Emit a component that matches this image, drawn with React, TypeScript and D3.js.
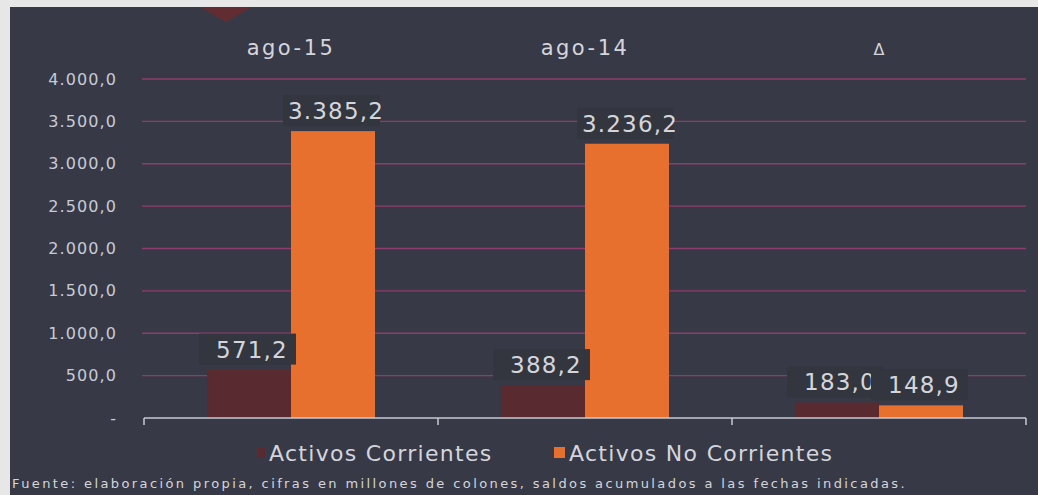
import React from 'react';
import * as d3 from 'd3';

const categories = ['ago-15', 'ago-14', 'Δ'];
const corrientes = [571.2, 388.2, 183.0];
const noCorrientes = [3385.2, 3236.2, 148.9];
const seriesNames = ['Activos Corrientes', 'Activos No Corrientes'];
const yTicks = [0, 500, 1000, 1500, 2000, 2500, 3000, 3500, 4000];
const footnote = 'Fuente: elaboración propia, cifras en millones de colones, saldos acumulados a las fechas indicadas.';

const W = 1038;
const H = 495;
const FONT = '"DejaVu Sans", sans-serif';
const BG = '#373a46';
const DARK = '#5a2a31';
const ORANGE = '#e8702f';
const TEXT = '#d4d5dc';

const fmt = (v: number) => {
  const [i, d] = v.toFixed(1).split('.');
  return i.replace(/\B(?=(\d{3})+(?!\d))/g, '.') + ',' + d;
};

export default function App() {
  const margin = { left: 144, right: 12, top: 79, bottom: 77 };
  const x = d3.scaleBand<string>().domain(categories).range([margin.left, W - margin.right]);
  const y = d3.scaleLinear().domain([0, 4000]).range([H - margin.bottom, margin.top]);
  const inner = d3.scaleBand<number>().domain([0, 1]).range([0, x.bandwidth()]).paddingOuter(0.75).paddingInner(0);
  const series = [corrientes, noCorrientes];
  const colors = [DARK, ORANGE];
  const y0 = y(0);

  const labels: { cx: number; ty: number; text: string }[] = [];
  categories.forEach((c, i) => {
    series.forEach((s, k) => {
      labels.push({ cx: (x(c) ?? 0) + (inner(k) ?? 0) + inner.bandwidth() / 2 + 3, ty: y(s[i]) - 12, text: fmt(s[i]) });
    });
  });

  return (
    <div style={{ position: 'absolute', left: 0, top: 0 }}>
      <svg width={W} height={H} style={{ display: 'block', fontFamily: FONT }}>
        <rect x={0} y={0} width={W} height={H} fill="#e7e7e7" />
        <rect x={10} y={7} width={W - 10} height={H - 7} fill={BG} />
        <polygon points="200,7 252,7 226,22" fill="#6b2b2e" opacity={0.8} />

        {yTicks.filter(t => t > 0).map(t => (
          <line key={t} x1={margin.left - 2} x2={W - margin.right} y1={y(t)} y2={y(t)} stroke="#8e3c6e" strokeWidth={1.3} />
        ))}
        {yTicks.map(t => (
          <text key={t} x={117} y={y(t)} dy="0.35em" textAnchor="end" fontSize={16} letterSpacing={1.1} fill="#c8cad8">
            {t === 0 ? '-' : fmt(t)}
          </text>
        ))}

        {categories.map(c => (
          <text key={c} x={(x(c) ?? 0) + x.bandwidth() / 2} y={55} textAnchor="middle"
            fontSize={c === 'Δ' ? 16 : 21} letterSpacing={c === 'Δ' ? 0 : 2.5} fill={TEXT}>
            {c}
          </text>
        ))}

        {categories.map((c, i) =>
          series.map((s, k) => (
            <rect key={c + k} x={(x(c) ?? 0) + (inner(k) ?? 0)} y={y(s[i])} width={inner.bandwidth()} height={y0 - y(s[i])} fill={colors[k]} />
          ))
        )}

        <line x1={margin.left} x2={W - margin.right} y1={y0} y2={y0} stroke="#c9cad2" strokeWidth={1.5} />
        {[...categories.map(c => x(c) ?? 0), W - margin.right].map((tx, i) => (
          <line key={i} x1={tx} x2={tx} y1={y0} y2={y0 + 7} stroke="#c9cad2" strokeWidth={1.5} />
        ))}

        {labels.map((l, i) => (
          <g key={i}>
            <rect x={l.cx - 53} y={l.ty - 24} width={97} height={31} fill="#33363f" />
            <text x={l.cx} y={l.ty} textAnchor="middle" fontSize={23} letterSpacing={1.2} fill={TEXT}>{l.text}</text>
          </g>
        ))}

        <g transform="translate(257,461)">
          <rect x={0} y={-13} width={8} height={10} fill={DARK} />
          <text x={12} y={0} fontSize={22} letterSpacing={1.3} fill={TEXT}>{seriesNames[0]}</text>
          <rect x={297} y={-14} width={11} height={11} fill={ORANGE} />
          <text x={312} y={0} fontSize={22} letterSpacing={1.3} fill={TEXT}>{seriesNames[1]}</text>
        </g>

        <text x={12} y={488} fontSize={13} letterSpacing={2.4} fill={TEXT}>{footnote}</text>
      </svg>
    </div>
  );
}
